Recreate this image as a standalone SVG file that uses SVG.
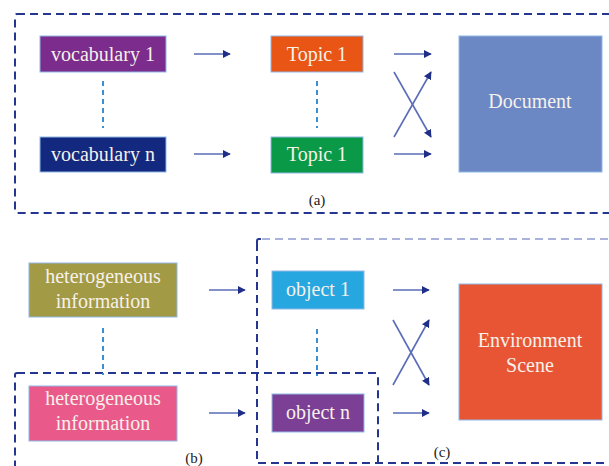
<svg xmlns="http://www.w3.org/2000/svg" width="609" height="466" viewBox="0 0 609 466">
  <defs>
    <marker id="head" viewBox="0 0 10 10" refX="9" refY="5" markerWidth="5" markerHeight="5" orient="auto" markerUnits="strokeWidth">
      <path d="M0,0 L10,5 L0,10 Z" fill="#1f2f88"/>
    </marker>
    <style>
      .node rect { stroke: #8fb8e6; stroke-width: 1; }
      .label { font-family: "Liberation Serif", "DejaVu Serif", serif; font-size: 20px; fill: #f6f1ea; text-anchor: middle; }
      .cap { font-family: "Liberation Serif", "DejaVu Serif", serif; font-size: 15px; fill: #222; text-anchor: middle; }
      .frame { fill: none; stroke: #24368f; stroke-width: 2; stroke-dasharray: 8 5; }
      .frame.light { stroke: #aab3dc; }
      .dots { stroke: #3d8fd4; stroke-width: 2; stroke-dasharray: 5 4; fill: none; }
      .arrow { stroke: #5a6cb8; stroke-width: 1.6; fill: none; marker-end: url(#head); }
    </style>
  </defs>
  <rect width="609" height="466" fill="#ffffff"/>

  <!-- panel frames -->
  <g id="frames">
    <rect class="frame" x="15" y="14" width="610" height="199" rx="2"/>
    <rect class="frame" x="15" y="373" width="363" height="110" rx="2"/>
    <path class="frame" d="M257,243 L257,463 L620,463"/>
    <path class="frame light" d="M262,239 L620,239"/>
    <path class="frame" d="M257,245 L257,241 Q257,239 259,239 L261,239" style="stroke-dasharray:none"/>
  </g>

  <!-- panel (a) -->
  <g id="vocab1" class="node">
    <rect x="40" y="36" width="126" height="36" fill="#7b2c8c"/>
    <text class="label" x="103" y="61">vocabulary 1</text>
  </g>
  <g id="vocabn" class="node">
    <rect x="40" y="137" width="126" height="35" fill="#13287f"/>
    <text class="label" x="103" y="161">vocabulary n</text>
  </g>
  <g id="topic1a" class="node">
    <rect x="271" y="36" width="92" height="36" fill="#e85514"/>
    <text class="label" x="317" y="61">Topic 1</text>
  </g>
  <g id="topic1b" class="node">
    <rect x="271" y="137" width="92" height="36" fill="#0a9a47"/>
    <text class="label" x="317" y="161">Topic 1</text>
  </g>
  <g id="document" class="node">
    <rect x="459" y="36" width="143" height="136" fill="#6b87c4"/>
    <text class="label" x="530" y="108">Document</text>
  </g>
  <text class="cap" x="317" y="205">(a)</text>

  <!-- panel (b) / (c) -->
  <g id="hetero1" class="node">
    <rect x="29" y="263" width="148" height="54" fill="#a39a45"/>
    <text class="label" x="103" y="283">heterogeneous</text>
    <text class="label" x="103" y="308">information</text>
  </g>
  <g id="hetero2" class="node">
    <rect x="29" y="386" width="148" height="55" fill="#e95a8a"/>
    <text class="label" x="103" y="405">heterogeneous</text>
    <text class="label" x="103" y="430">information</text>
  </g>
  <g id="object1" class="node">
    <rect x="272" y="271" width="92" height="38" fill="#27a7e0"/>
    <text class="label" x="318" y="296">object 1</text>
  </g>
  <g id="objectn" class="node">
    <rect x="272" y="394" width="92" height="38" fill="#7b4096"/>
    <text class="label" x="318" y="419">object n</text>
  </g>
  <g id="scene" class="node">
    <rect x="459" y="284" width="143" height="136" fill="#e85535"/>
    <text class="label" x="530" y="347">Environment</text>
    <text class="label" x="530" y="372">Scene</text>
  </g>
  <text class="cap" x="194" y="463">(b)</text>
  <text class="cap" x="442" y="457">(c)</text>

  <!-- connectors -->
  <g id="connectors">
    <line class="dots" x1="103" y1="81" x2="103" y2="128"/>
    <line class="dots" x1="317" y1="81" x2="317" y2="128"/>
    <line class="dots" x1="103" y1="328" x2="103" y2="375"/>
    <line class="dots" x1="317" y1="329" x2="317" y2="376"/>

    <line class="arrow" x1="194" y1="54" x2="230" y2="54"/>
    <line class="arrow" x1="194" y1="154" x2="230" y2="154"/>
    <line class="arrow" x1="394" y1="54" x2="431" y2="54"/>
    <line class="arrow" x1="394" y1="154" x2="431" y2="154"/>
    <line class="arrow" x1="394" y1="72" x2="431" y2="137"/>
    <line class="arrow" x1="394" y1="137" x2="431" y2="72"/>

    <line class="arrow" x1="209" y1="290" x2="245" y2="290"/>
    <line class="arrow" x1="209" y1="413" x2="245" y2="413"/>
    <line class="arrow" x1="393" y1="290" x2="429" y2="290"/>
    <line class="arrow" x1="393" y1="413" x2="429" y2="413"/>
    <line class="arrow" x1="393" y1="320" x2="429" y2="385"/>
    <line class="arrow" x1="393" y1="385" x2="429" y2="320"/>
  </g>
</svg>
